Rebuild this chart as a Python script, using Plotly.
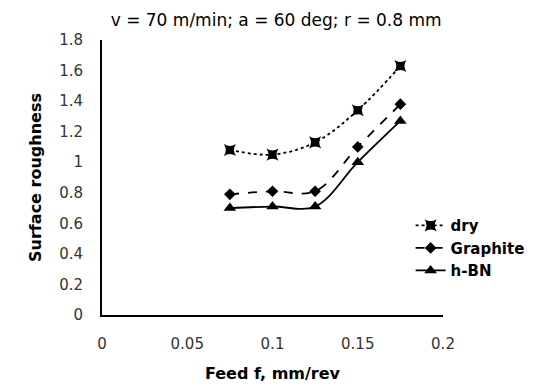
import plotly.graph_objects as go

feed = [0.075, 0.1, 0.125, 0.15, 0.175]
dry = [1.08, 1.05, 1.13, 1.34, 1.63]
graphite = [0.79, 0.81, 0.81, 1.10, 1.38]
hbn = [0.70, 0.71, 0.71, 1.00, 1.27]
xticks = [0, 0.05, 0.1, 0.15, 0.2]
yticks = [0, 0.2, 0.4, 0.6, 0.8, 1, 1.2, 1.4, 1.6, 1.8]

FONT = "DejaVu Sans"

fig = go.Figure()
fig.add_trace(go.Scatter(x=feed, y=dry, name="dry", mode="lines+markers",
                         line=dict(color="black", width=1.8, dash="dot", shape="spline"),
                         marker=dict(symbol="star-square", size=11, color="black")))
fig.add_trace(go.Scatter(x=feed, y=graphite, name="Graphite", mode="lines+markers",
                         line=dict(color="black", width=1.8, dash="dash", shape="spline"),
                         marker=dict(symbol="diamond", size=9, color="black")))
fig.add_trace(go.Scatter(x=feed, y=hbn, name="h-BN", mode="lines+markers",
                         line=dict(color="black", width=1.8, dash="solid", shape="spline"),
                         marker=dict(symbol="triangle-up", size=11, color="black")))

fig.update_layout(
    width=549, height=387,
    margin=dict(l=102, r=106, t=40, b=72),
    paper_bgcolor="white", plot_bgcolor="white",
    font=dict(family=FONT, size=15, color="black"),
    title=dict(text="v = 70 m/min; a = 60 deg; r = 0.8 mm", x=0.503, xanchor="center",
               y=0.948, yanchor="middle", font=dict(family=FONT, size=17, color="black")),
    xaxis=dict(range=[0, 0.2], tickvals=xticks, ticktext=[str(v) for v in xticks],
               showline=True, linecolor="black", linewidth=2, showgrid=False, zeroline=False,
               ticks="", ticklen=0, tickfont=dict(size=15, color="#333"), automargin=False,
               title=dict(text="<b>Feed f, mm/rev</b>", font=dict(size=16), standoff=16)),
    yaxis=dict(range=[0, 1.8], tickvals=yticks, ticktext=[str(v) for v in yticks],
               showline=True, linecolor="black", linewidth=2, showgrid=False, zeroline=False,
               ticks="", ticklen=0, tickfont=dict(size=15, color="#333"), automargin=False,
               title=dict(text="<b>Surface roughness</b>", font=dict(size=16), standoff=14)),
    legend=dict(x=0.905, y=0.385, xanchor="left", yanchor="top", bgcolor="rgba(0,0,0,0)",
                font=dict(size=15, weight="bold"), tracegroupgap=0),
    showlegend=True,
)
fig.update_xaxes(ticklabelstandoff=14)
fig.update_yaxes(ticklabelstandoff=14)

fig.write_html("out.html")
